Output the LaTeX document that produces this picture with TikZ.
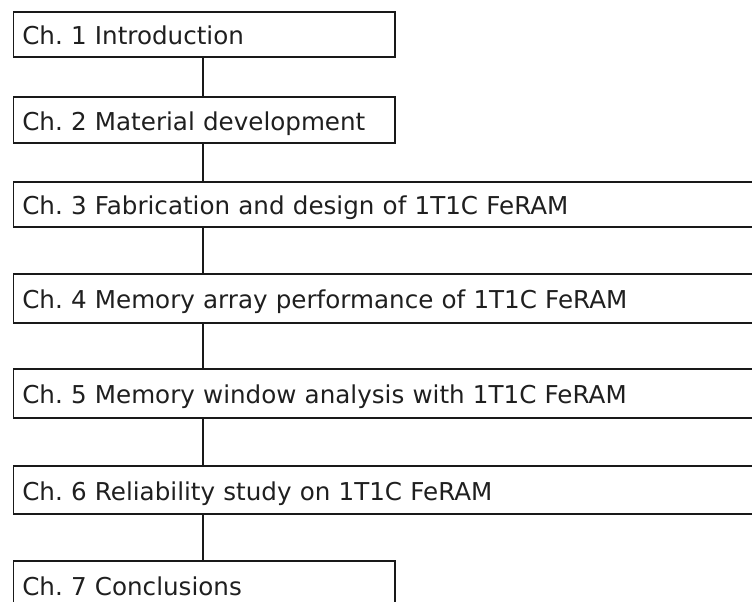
\documentclass[tikz,border=0pt]{standalone}
\usepackage{fontspec}
\setmainfont{DejaVu Sans}
\begin{document}
\begin{tikzpicture}[x=1pt,y=-1pt,
  chap/.style={draw=black!90, line width=1.6pt, anchor=north west, inner xsep=9pt, inner ysep=0pt,
    text width=#1, align=left, text height=25pt, text depth=4pt,
    font=\fontsize{24.6}{28}\selectfont\frenchspacing, text=black!88},
  link/.style={draw=black!90, line width=1.6pt}]
\useasboundingbox (0,0) rectangle (752,602);
\clip (0,0) rectangle (752,602);
\coordinate (spine) at (203,0);
% chapter boxes
\node[chap=363.5pt, minimum height=45pt] (b1) at (12.5,11) {Ch. 1 Introduction};
\node[chap=363.5pt, minimum height=46pt] (b2) at (12.5,96) {Ch. 2 Material development};
\node[chap=760pt, minimum height=45pt] (b3) at (12.5,181) {Ch. 3 Fabrication and design of 1T1C FeRAM};
\node[chap=760pt, minimum height=49pt] (b4) at (12.5,273) {Ch. 4 Memory array performance of 1T1C FeRAM};
\node[chap=760pt, minimum height=49pt] (b5) at (12.5,368) {Ch. 5 Memory window analysis with 1T1C FeRAM};
\node[chap=760pt, minimum height=48pt] (b6) at (12.5,465) {Ch. 6 Reliability study on 1T1C FeRAM};
\node[chap=363.5pt, minimum height=48pt] (b7) at (12.5,560) {Ch. 7 Conclusions};
% links between consecutive chapters
\foreach \a/\b in {b1/b2,b2/b3,b3/b4,b4/b5,b5/b6,b6/b7}
  \draw[link] (\a.south -| spine) -- (\b.north -| spine);
\end{tikzpicture}
\end{document}
